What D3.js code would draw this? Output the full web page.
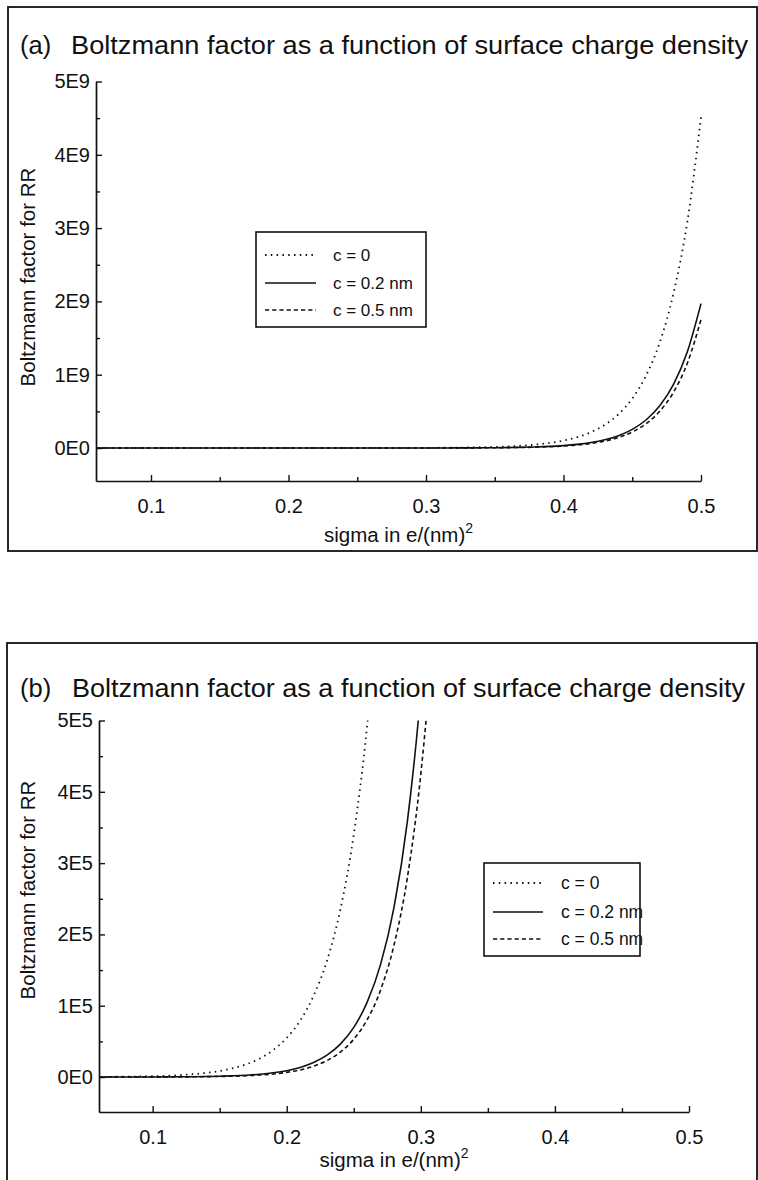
<!DOCTYPE html>
<html>
<head>
<meta charset="utf-8">
<script src="https://cdn.jsdelivr.net/npm/d3@7"></script>
<style>
  html, body { margin: 0; padding: 0; background: #fff; }
  svg { display: block; }
  text { font-family: "Liberation Sans", Arial, Helvetica, sans-serif; fill: #111; }
</style>
</head>
<body>
<svg id="chart" width="758" height="1180"></svg>
<script>
// Surface charge density sigma, e/(nm)^2
const sigma = [
  0.06, 0.07, 0.08, 0.09, 0.10, 0.11, 0.12, 0.13, 0.14, 0.15,
  0.16, 0.17, 0.18, 0.19, 0.20, 0.21, 0.22, 0.23, 0.24, 0.25,
  0.26, 0.27, 0.28, 0.29, 0.30, 0.31, 0.32, 0.33, 0.34, 0.35,
  0.36, 0.37, 0.38, 0.39, 0.40, 0.41, 0.42, 0.43, 0.44, 0.45,
  0.46, 0.47, 0.48, 0.49, 0.50
];

// Boltzmann factor for RR, c = 0
const bfC0 = [
  260, 380, 560, 820, 1200, 1780, 2700, 4000, 5800, 8500,
  1.25e4, 1.8e4, 2.6e4, 3.8e4, 5.5e4, 7.9e4, 1.14e5, 1.63e5, 2.35e5, 3.4e5,
  4.94e5, 7.22e5, 1.06e6, 1.55e6, 2.26e6, 3.30e6, 4.83e6, 7.06e6, 1.03e7, 1.51e7,
  2.21e7, 3.23e7, 4.72e7, 6.90e7, 1.01e8, 1.48e8, 2.16e8, 3.16e8, 4.61e8, 6.75e8,
  9.87e8, 1.44e9, 2.11e9, 3.08e9, 4.51e9
];

// Boltzmann factor for RR, c = 0.2 nm
const bfC02 = [
  30, 45, 65, 100, 150, 225, 340, 510, 770, 1150,
  1740, 2620, 3950, 5950, 8970, 1.35e4, 2.04e4, 3.07e4, 4.62e4, 6.96e4,
  1.05e5, 1.58e5, 2.38e5, 3.59e5, 5.41e5, 8.15e5, 1.23e6, 1.85e6, 2.79e6, 4.20e6,
  6.33e6, 9.54e6, 1.44e7, 2.17e7, 3.26e7, 4.92e7, 7.41e7, 1.12e8, 1.68e8, 2.54e8,
  3.82e8, 5.76e8, 8.68e8, 1.31e9, 1.97e9
];

// Boltzmann factor for RR, c = 0.5 nm
const bfC05 = [
  20, 30, 45, 68, 103, 156, 237, 359, 545, 826,
  1250, 1900, 2880, 4370, 6620, 1.0e4, 1.52e4, 2.31e4, 3.5e4, 5.3e4,
  8.04e4, 1.22e5, 1.85e5, 2.80e5, 4.25e5, 6.44e5, 9.77e5, 1.48e6, 2.24e6, 3.40e6,
  5.16e6, 7.82e6, 1.19e7, 1.80e7, 2.73e7, 4.13e7, 6.27e7, 9.5e7, 1.44e8, 2.19e8,
  3.31e8, 5.02e8, 7.61e8, 1.154e9, 1.75e9
];

const seriesNames = ["c = 0", "c = 0.2 nm", "c = 0.5 nm"];

const xTickValues = [0.1, 0.2, 0.3, 0.4, 0.5];
const xTickLabels = ["0.1", "0.2", "0.3", "0.4", "0.5"];
const xMinorTicks = [0.15, 0.25, 0.35, 0.45];

const yTicksA = [0, 1e9, 2e9, 3e9, 4e9, 5e9];
const yTickLabelsA = ["0E0", "1E9", "2E9", "3E9", "4E9", "5E9"];
const yMinorA = [0.5e9, 1.5e9, 2.5e9, 3.5e9, 4.5e9];

const yTicksB = [0, 1e5, 2e5, 3e5, 4e5, 5e5];
const yTickLabelsB = ["0E0", "1E5", "2E5", "3E5", "4E5", "5E5"];
const yMinorB = [0.5e5, 1.5e5, 2.5e5, 3.5e5, 4.5e5];

const panelLabels = ["(a)", "(b)"];
const titleText = "Boltzmann factor as a function of surface charge density";
const yTitleText = "Boltzmann factor for RR";
const xTitleText = "sigma in e/(nm)";
const xTitleSup = "2";

// ---------- drawing ----------
const series = [bfC0, bfC02, bfC05].map((vals, i) => ({
  name: seriesNames[i],
  points: sigma.map((s, j) => ({ s, v: vals[j] }))
}));
const dashes = ["1.5 4.3", null, "4.2 3"];

const panels = [
  {
    label: panelLabels[0],
    frame: { x: 8, y: 7, w: 749, h: 544 },
    titleY: 54, titleX: 71, titleLen: 677,
    xRange: [96, 701], yRange: [481, 81.5], yDomain: [-0.45e9, 5e9],
    yTicks: yTicksA, yLabels: yTickLabelsA, yMinor: yMinorA,
    xTitleY: 542, yTitleCenter: 277,
    legend: { x: 256, y: 232, w: 170, h: 95, rows: [255, 283, 310], x0: 265, x1: 316, tx: 333, fs: 17 }
  },
  {
    label: panelLabels[1],
    frame: { x: 7, y: 643, w: 750, h: 600 },
    titleY: 697, titleX: 72, titleLen: 673,
    xRange: [99, 689], yRange: [1112, 720.5], yDomain: [-0.49e5, 5e5],
    yTicks: yTicksB, yLabels: yTickLabelsB, yMinor: yMinorB,
    xTitleY: 1167, yTitleCenter: 890,
    legend: { x: 484, y: 863, w: 156, h: 93, rows: [883, 912, 939], x0: 493, x1: 543, tx: 561, fs: 17.5 }
  }
];

const svg = d3.select("#chart");
const ink = "#111";

panels.forEach((p, pi) => {
  const g = svg.append("g");

  // panel frame
  g.append("rect")
    .attr("x", p.frame.x).attr("y", p.frame.y)
    .attr("width", p.frame.w).attr("height", p.frame.h)
    .attr("fill", "none").attr("stroke", ink).attr("stroke-width", 1.8);

  // title
  g.append("text").attr("x", 20).attr("y", p.titleY)
    .attr("font-size", 25.5).text(p.label);
  g.append("text").attr("x", p.titleX).attr("y", p.titleY)
    .attr("font-size", 25.5)
    .attr("textLength", p.titleLen).attr("lengthAdjust", "spacingAndGlyphs")
    .text(titleText);

  const x = d3.scaleLinear().domain([0.06, 0.5]).range(p.xRange);
  const y = d3.scaleLinear().domain(p.yDomain).range(p.yRange);

  // x axis: major ticks with labels, minor ticks without
  g.append("g").attr("transform", `translate(0,${p.yRange[0]})`)
    .call(d3.axisBottom(x).tickValues(xTickValues)
      .tickFormat((d, i) => xTickLabels[i])
      .tickSizeInner(-6).tickSizeOuter(0).tickPadding(18));
  g.append("g").attr("transform", `translate(0,${p.yRange[0]})`)
    .call(d3.axisBottom(x).tickValues(xMinorTicks).tickFormat("")
      .tickSizeInner(-4).tickSizeOuter(0))
    .call(a => a.select(".domain").remove());

  // y axis: ticks point inward, labels outside
  g.append("g").attr("transform", `translate(${p.xRange[0]},0)`)
    .call(d3.axisLeft(y).tickValues(p.yTicks)
      .tickFormat((d, i) => p.yLabels[i])
      .tickSizeInner(-6).tickSizeOuter(0).tickPadding(6));
  g.append("g").attr("transform", `translate(${p.xRange[0]},0)`)
    .call(d3.axisLeft(y).tickValues(p.yMinor).tickFormat("")
      .tickSizeInner(-4).tickSizeOuter(0))
    .call(a => a.select(".domain").remove());

  g.selectAll(".domain").attr("stroke", ink).attr("stroke-width", 1.7);
  g.selectAll(".tick line").attr("stroke", ink).attr("stroke-width", 1.4);
  g.selectAll(".tick text")
    .attr("font-family", "\"Liberation Sans\", Arial, Helvetica, sans-serif")
    .attr("font-size", 20).attr("fill", ink);

  // axis titles
  const xt = g.append("text")
    .attr("x", (p.xRange[0] + p.xRange[1]) / 2).attr("y", p.xTitleY)
    .attr("text-anchor", "middle").attr("font-size", 20.5);
  xt.append("tspan").text(xTitleText);
  xt.append("tspan").attr("dy", -9).attr("font-size", 14).text(xTitleSup);

  g.append("text")
    .attr("transform", `translate(35,${p.yTitleCenter}) rotate(-90)`)
    .attr("text-anchor", "middle").attr("font-size", 20.5)
    .text(yTitleText);

  // curves, clipped to the plot area
  const clipId = "clip" + pi;
  svg.append("clipPath").attr("id", clipId).append("rect")
    .attr("x", p.xRange[0]).attr("y", p.yRange[1])
    .attr("width", p.xRange[1] - p.xRange[0] + 2)
    .attr("height", p.yRange[0] - p.yRange[1]);

  const line = d3.line().x(d => x(d.s)).y(d => y(d.v)).curve(d3.curveMonotoneX);
  const curves = g.append("g").attr("clip-path", `url(#${clipId})`);
  series.forEach((sr, i) => {
    curves.append("path").datum(sr.points)
      .attr("d", line).attr("fill", "none")
      .attr("stroke", ink).attr("stroke-width", i === 0 ? 1.8 : 1.6)
      .attr("stroke-dasharray", dashes[i]);
  });

  // legend
  const L = p.legend;
  g.append("rect").attr("x", L.x).attr("y", L.y).attr("width", L.w).attr("height", L.h)
    .attr("fill", "#fff").attr("stroke", ink).attr("stroke-width", 1.6);
  series.forEach((sr, i) => {
    g.append("line").attr("x1", L.x0).attr("x2", L.x1)
      .attr("y1", L.rows[i]).attr("y2", L.rows[i])
      .attr("stroke", ink).attr("stroke-width", i === 0 ? 1.8 : 1.6)
      .attr("stroke-dasharray", dashes[i]);
    g.append("text").attr("x", L.tx).attr("y", L.rows[i] + 6)
      .attr("font-size", L.fs).text(sr.name);
  });
});
</script>
</body>
</html>
